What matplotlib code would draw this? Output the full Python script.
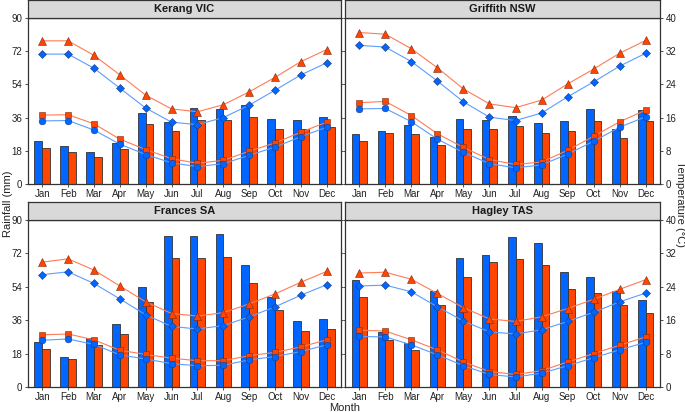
import numpy as np
import matplotlib.pyplot as plt

plt.rcParams['font.family'] = ['Liberation Sans', 'DejaVu Sans']

months = ['Jan', 'Feb', 'Mar', 'Apr', 'May', 'Jun', 'Jul', 'Aug', 'Sep', 'Oct', 'Nov', 'Dec']
sites = ['Kerang VIC', 'Griffith NSW', 'Frances SA', 'Hagley TAS']

# rainfall (mm), two periods
rain_a = {
    'Kerang VIC':   [23.1, 20.6, 17.5, 22.2, 38.5, 33.8, 41.2, 40.8, 43.0, 35.2, 34.9, 36.3],
    'Griffith NSW': [27.3, 28.9, 32.2, 25.3, 35.4, 34.9, 37.0, 33.1, 34.2, 40.5, 29.8, 40.3],
    'Frances SA':   [24.2, 16.1, 26.5, 33.9, 53.9, 81.3, 81.3, 82.4, 66.0, 48.7, 35.5, 36.4],
    'Hagley TAS':   [57.5, 29.9, 23.8, 51.9, 69.6, 71.1, 81.0, 77.6, 62.0, 59.2, 51.9, 47.1],
}
rain_b = {
    'Kerang VIC':   [19.5, 17.4, 14.8, 18.8, 32.7, 28.9, 34.9, 34.9, 36.5, 29.8, 29.6, 30.9],
    'Griffith NSW': [23.1, 27.7, 27.3, 21.3, 30.0, 29.6, 31.4, 27.8, 28.9, 34.2, 25.1, 34.2],
    'Frances SA':   [20.6, 15.3, 22.4, 28.7, 46.0, 69.3, 69.3, 70.2, 56.3, 41.5, 30.3, 31.0],
    'Hagley TAS':   [48.7, 25.4, 20.2, 44.0, 59.3, 67.6, 68.9, 66.0, 52.7, 50.5, 44.0, 40.0],
}
# temperature (degC)
tmax_a = {
    'Kerang VIC':   [31.3, 31.3, 27.9, 23.1, 18.3, 14.9, 14.3, 16.0, 19.0, 22.6, 26.3, 29.2],
    'Griffith NSW': [33.4, 33.0, 29.5, 24.8, 19.8, 16.1, 15.3, 17.1, 21.0, 24.6, 28.4, 31.5],
    'Frances SA':   [26.9, 27.6, 24.8, 21.1, 17.3, 14.5, 13.9, 14.7, 16.8, 19.2, 22.0, 24.5],
    'Hagley TAS':   [24.2, 24.4, 22.8, 19.2, 15.8, 13.2, 12.7, 13.7, 15.7, 17.9, 20.4, 22.5],
}
tmax_b = {
    'Kerang VIC':   [34.5, 34.5, 31.0, 26.3, 21.4, 18.1, 17.4, 19.1, 22.2, 25.7, 29.5, 32.4],
    'Griffith NSW': [36.5, 36.1, 32.6, 28.0, 22.9, 19.3, 18.4, 20.2, 24.1, 27.7, 31.5, 34.6],
    'Frances SA':   [29.9, 30.7, 28.0, 24.2, 20.4, 17.6, 17.0, 17.8, 19.9, 22.3, 25.1, 27.7],
    'Hagley TAS':   [27.3, 27.5, 25.8, 22.4, 19.0, 16.3, 15.7, 16.8, 18.8, 21.0, 23.4, 25.7],
}
tmin_a = {
    'Kerang VIC':   [15.2, 15.3, 13.0, 9.6, 7.1, 5.1, 4.2, 4.9, 6.9, 8.9, 11.4, 13.7],
    'Griffith NSW': [18.1, 18.2, 15.0, 10.8, 7.6, 4.9, 3.9, 4.6, 7.2, 10.3, 13.7, 16.2],
    'Frances SA':   [11.2, 11.5, 10.2, 7.7, 6.7, 5.6, 5.1, 5.2, 6.5, 7.3, 8.5, 10.1],
    'Hagley TAS':   [12.1, 12.0, 10.1, 7.7, 5.1, 3.0, 2.4, 3.3, 5.1, 7.0, 8.9, 10.7],
}
tmin_b = {
    'Kerang VIC':   [16.6, 16.7, 14.5, 10.8, 8.3, 6.1, 5.0, 5.7, 7.9, 9.9, 12.5, 14.9],
    'Griffith NSW': [19.6, 19.9, 16.5, 12.1, 8.8, 5.9, 4.7, 5.3, 8.1, 11.5, 15.0, 17.8],
    'Frances SA':   [12.5, 12.7, 11.3, 8.8, 7.8, 6.9, 6.3, 6.3, 7.5, 8.3, 9.6, 11.3],
    'Hagley TAS':   [13.6, 13.4, 11.3, 8.9, 6.0, 3.7, 3.0, 3.9, 6.0, 8.0, 10.0, 12.0],
}

blue = '#0066ff'
orange = '#ff4500'
lblue = '#5c9dff'
lorange = '#ff7b55'

fig = plt.figure(figsize=(6.85, 4.12), dpi=100)
W, H = 685, 412
# panel boxes in pixels: x0, x1, y_top(plot), y_bottom(plot)
cols = [(28, 341), (345, 660)]
rows = [(18, 184), (220, 387)]
strip_h = 18

x = np.arange(12)
bw = 0.3
for i, site in enumerate(sites):
    r, c = divmod(i, 2)
    x0, x1 = cols[c]
    yt, yb = rows[r]
    ax = fig.add_axes([x0 / W, 1 - yb / H, (x1 - x0) / W, (yb - yt) / H])
    ax.bar(x - bw / 2, rain_a[site], bw, color=blue, edgecolor='#333333', linewidth=0.6, zorder=2)
    ax.bar(x + bw / 2, rain_b[site], bw, color=orange, edgecolor='#333333', linewidth=0.6, zorder=2)
    ax.set_xlim(-0.55, 11.55)
    ax.set_ylim(0, 90)
    ax.set_yticks([0, 18, 36, 54, 72, 90])
    ax.set_xticks(x)
    ax.set_xticklabels(months)
    ax.tick_params(axis='both', labelsize=7, colors='#333333', length=2.5, width=0.6, pad=1.5)
    ax.tick_params(axis='x', labelcolor='#222222', pad=1)
    ax.tick_params(axis='y', labelcolor='#222222')
    if c == 1:
        ax.tick_params(axis='y', labelleft=False, length=1.5)
    for s in ax.spines.values():
        s.set_color('#333333')
        s.set_linewidth(0.9)

    ax2 = ax.twinx()
    ax2.set_ylim(0, 40)
    ax2.set_yticks([0, 8, 16, 24, 32, 40])
    ax2.tick_params(axis='y', labelsize=7, colors='#333333', labelcolor='#222222',
                    length=2.5, width=0.6, pad=1.5)
    if c == 0:
        ax2.tick_params(axis='y', labelright=False, length=1.5)
    for s in ax2.spines.values():
        s.set_visible(False)
    ax2.plot(x, tmax_b[site], color=lorange, lw=0.8, marker='^', ms=5.5,
             mfc=orange, mec='#7a2a10', mew=0.4)
    ax2.plot(x, tmax_a[site], color=lblue, lw=0.8, marker='D', ms=4.2,
             mfc=blue, mec='#1a3a80', mew=0.4)
    ax2.plot(x, tmin_b[site], color=lorange, lw=0.8, marker='s', ms=4.6,
             mfc=orange, mec='#7a2a10', mew=0.4)
    ax2.plot(x, tmin_a[site], color=lblue, lw=0.8, marker='o', ms=4.8,
             mfc=blue, mec='#1a3a80', mew=0.4)

    sx = fig.add_axes([x0 / W, 1 - yt / H, (x1 - x0) / W, strip_h / H])
    sx.set_facecolor('#d9d9d9')
    sx.set_xticks([])
    sx.set_yticks([])
    for s in sx.spines.values():
        s.set_color('#333333')
        s.set_linewidth(0.9)
    sx.text(0.5, 0.5, site, ha='center', va='center', fontsize=8, fontweight='bold',
            color='#1a1a1a', transform=sx.transAxes)

fig.text(8 / W, 1 - 204 / H, 'Rainfall (mm)', rotation=90, ha='center', va='center',
         fontsize=8, color='#222222')
fig.text(680 / W, 1 - 204 / H, 'Temperature (°C)', rotation=270, ha='center', va='center',
         fontsize=8, color='#222222')
fig.text(345 / W, 1 - 408 / H, 'Month', ha='center', va='center', fontsize=8, color='#222222')

fig.savefig('out.png', dpi=100)
